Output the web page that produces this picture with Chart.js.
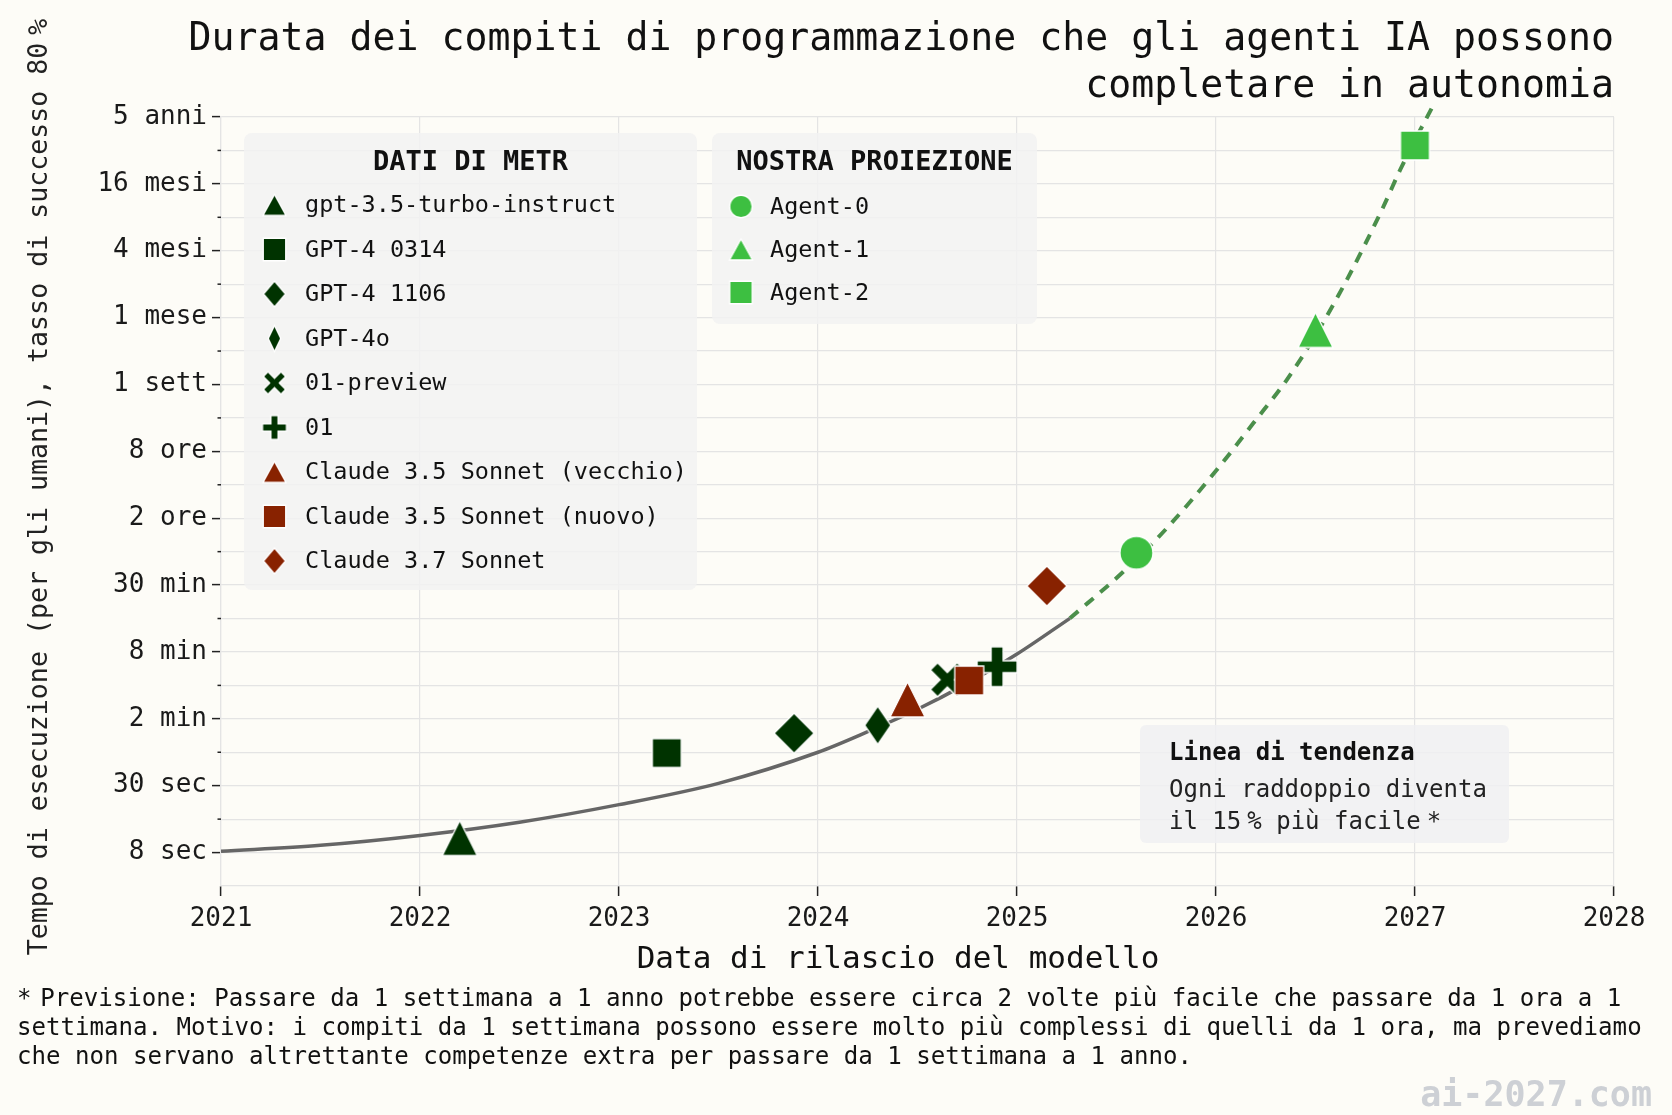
<!DOCTYPE html>
<html lang="it">
<head>
<meta charset="utf-8">
<title>Durata dei compiti di programmazione</title>
<script src="https://cdn.jsdelivr.net/npm/chart.js@4.4.1/dist/chart.umd.min.js"></script>
<style>
  html, body { margin: 0; padding: 0; background: #fdfcf7; }
  #chart { display: block; }
</style>
</head>
<body>
<canvas id="chart" width="1672" height="1115"></canvas>
<script>
const FONT = "'DejaVu Sans Mono', monospace";
const DARK_GREEN = '#003300';
const CLAUDE_RED = '#882200';
const AGENT_GREEN = '#3dbf41';

// METR data: release date (fractional year) and 80% time horizon in seconds
const metrModels = ['gpt-3.5-turbo-instruct', 'GPT-4 0314', 'GPT-4 1106', 'GPT-4o', '01-preview', '01',
  'Claude 3.5 Sonnet (vecchio)', 'Claude 3.5 Sonnet (nuovo)', 'Claude 3.7 Sonnet'];
const metrDates = [2022.20, 2023.24, 2023.88, 2024.30, 2024.65, 2024.90, 2024.45, 2024.76, 2025.15];
const metrSeconds = [10.8, 63, 95, 112, 288, 377, 191, 283, 2007];
const metrShapes = ['triangle', 'square', 'diamond', 'thin', 'x', 'plus', 'triangle', 'square', 'diamond'];
const metrColors = [DARK_GREEN, DARK_GREEN, DARK_GREEN, DARK_GREEN, DARK_GREEN, DARK_GREEN, CLAUDE_RED, CLAUDE_RED, CLAUDE_RED];

// our projection
const agentNames = ['Agent-0', 'Agent-1', 'Agent-2'];
const agentDates = [2025.60, 2026.50, 2027.00];
const agentSeconds = [4000, 405000, 18600000];
const agentShapes = ['circle', 'triangle', 'square'];

// trend line
const trendYears = [2021.0, 2021.5, 2022.0, 2022.5, 2023.0, 2023.5, 2024.0, 2024.25, 2024.5, 2024.75, 2025.0, 2025.266];
const trendSeconds = [8.2, 9.3, 11.4, 15.0, 21.6, 33.6, 64, 98, 156, 267, 490, 1028];
const projYears = [2025.266, 2025.534, 2025.752, 2026.003, 2026.187, 2026.355, 2026.506, 2026.657, 2026.841, 2026.925, 2027.0, 2027.084];
const projSeconds = [1028, 2698, 6640, 22240, 58580, 143700, 378500, 1143000, 5220000, 11180000, 20800000, 40200000];

// y axis: work time in seconds, labelled every factor of 4
const tickSeconds = [8, 32, 128, 512, 2048, 8192, 32768, 131072, 524288, 2097152, 8388608, 33554432];
const tickLabels = ['8 sec', '30 sec', '2 min', '8 min', '30 min', '2 ore', '8 ore', '1 sett', '1 mese', '4 mesi', '16 mesi', '5 anni'];
const gridSeconds = [];
tickSeconds.forEach((v, i) => { gridSeconds.push(v); if (i < tickSeconds.length - 1) gridSeconds.push(v * 2); });

// \u2009 = narrow gap
const footerLines = [
  '*\u2009Previsione: Passare da 1 settimana a 1 anno potrebbe essere circa 2 volte più facile che passare da 1 ora a 1',
  'settimana. Motivo: i compiti da 1 settimana possono essere molto più complessi di quelli da 1 ora, ma prevediamo',
  'che non servano altrettante competenze extra per passare da 1 settimana a 1 anno.'
];

// marker sizes (w, h) in px, on the plot and in the legends
const PLOT_SIZE = { triangle: [35, 35], square: [29, 29], diamond: [40, 40], thin: [26, 38], x: [34, 34], plus: [40, 40], circle: [33, 33] };
const LEGEND_SIZE = { triangle: [23, 21], square: [22.5, 22.5], diamond: [22, 26], thin: [12.5, 26], x: [22.5, 22.5], plus: [24, 24], circle: [22.5, 22.5] };

function makeMarker(shape, color, size) {
  const [w, h] = size;
  const pad = 2;
  const c = document.createElement('canvas');
  c.width = Math.ceil(w + pad * 2);
  c.height = Math.ceil(h + pad * 2);
  const g = c.getContext('2d');
  g.translate(c.width / 2, c.height / 2);
  const hw = w / 2, hh = h / 2;
  g.beginPath();
  if (shape === 'triangle') {
    g.moveTo(0, -hh); g.lineTo(hw, hh); g.lineTo(-hw, hh); g.closePath();
  } else if (shape === 'square') {
    g.rect(-hw, -hh, w, h);
  } else if (shape === 'diamond' || shape === 'thin') {
    g.moveTo(0, -hh); g.lineTo(hw, 0); g.lineTo(0, hh); g.lineTo(-hw, 0); g.closePath();
  } else if (shape === 'circle') {
    g.arc(0, 0, hw, 0, Math.PI * 2);
  } else {
    // filled plus, rotated for the x
    const t = w * 0.15;
    let a = hw;
    if (shape === 'x') { g.rotate(Math.PI / 4); a = hw * Math.SQRT2 - t; }
    g.moveTo(-t, -a); g.lineTo(t, -a); g.lineTo(t, -t); g.lineTo(a, -t); g.lineTo(a, t); g.lineTo(t, t);
    g.lineTo(t, a); g.lineTo(-t, a); g.lineTo(-t, t); g.lineTo(-a, t); g.lineTo(-a, -t); g.lineTo(-t, -t);
    g.closePath();
  }
  g.fillStyle = color;
  g.fill();
  g.strokeStyle = '#ffffff';
  g.lineWidth = 1.3;
  g.stroke();
  return c;
}

// fillText where \u2009 is drawn as a narrow gap (the mono font has no thin space)
function fillTextThin(ctx, text, x, y, gapRatio = 0.42) {
  const gap = ctx.measureText('0').width * gapRatio;
  const parts = text.split('\u2009');
  const total = parts.reduce((s, p) => s + ctx.measureText(p).width, 0) + gap * (parts.length - 1);
  let cx = x;
  if (ctx.textAlign === 'center') cx = x - total / 2;
  else if (ctx.textAlign === 'right') cx = x - total;
  ctx.save();
  ctx.textAlign = 'left';
  parts.forEach(p => {
    ctx.fillText(p, cx, y);
    cx += ctx.measureText(p).width + gap;
  });
  ctx.restore();
}

const datasets = [];
metrModels.forEach((name, i) => {
  datasets.push({
    label: name,
    data: [{ x: metrDates[i], y: metrSeconds[i] }],
    pointStyle: makeMarker(metrShapes[i], metrColors[i], PLOT_SIZE[metrShapes[i]]),
    pointRadius: 12,
    order: 40 - i
  });
});
agentNames.forEach((name, i) => {
  datasets.push({
    label: name,
    data: [{ x: agentDates[i], y: agentSeconds[i] }],
    pointStyle: makeMarker(agentShapes[i], AGENT_GREEN, PLOT_SIZE[agentShapes[i]]),
    pointRadius: 12,
    order: 20 - i
  });
});
datasets.push({
  label: 'Tendenza',
  data: trendYears.map((x, i) => ({ x, y: trendSeconds[i] })),
  showLine: true,
  borderColor: '#666666',
  borderWidth: 3.5,
  pointRadius: 0,
  cubicInterpolationMode: 'monotone',
  order: 100
});
datasets.push({
  label: 'Proiezione',
  data: projYears.map((x, i) => ({ x, y: projSeconds[i] })),
  showLine: true,
  borderColor: '#4b8f4b',
  borderWidth: 4,
  borderDash: [11, 9],
  pointRadius: 0,
  cubicInterpolationMode: 'monotone',
  clip: { left: 0, top: 14, right: 0, bottom: 0 },
  order: 100
});

function drawLegendBox(ctx, box, title, names, shapes, colors) {
  ctx.save();
  ctx.beginPath();
  ctx.roundRect(box.x, box.y, box.w, box.h, 8);
  ctx.fillStyle = 'rgba(242, 242, 242, 0.85)';
  ctx.fill();
  ctx.fillStyle = '#111111';
  ctx.font = 'bold 27px ' + FONT;
  ctx.textAlign = 'center';
  ctx.textBaseline = 'alphabetic';
  ctx.fillText(title, box.x + box.w / 2, box.titleY);
  ctx.font = '23.5px ' + FONT;
  ctx.textAlign = 'left';
  ctx.textBaseline = 'middle';
  names.forEach((name, i) => {
    const cy = box.rowY + i * box.rowGap;
    const img = makeMarker(shapes[i], colors[i], LEGEND_SIZE[shapes[i]]);
    ctx.drawImage(img, box.markerX - img.width / 2, cy - img.height / 2);
    ctx.fillStyle = '#111111';
    ctx.fillText(name, box.textX, cy + 1);
  });
  ctx.restore();
}

const decorations = {
  id: 'decorations',
  beforeDraw(chart) {
    const ctx = chart.ctx;
    ctx.save();
    ctx.fillStyle = '#fdfcf7';
    ctx.fillRect(0, 0, chart.width, chart.height);
    ctx.restore();
  },
  afterDraw(chart) {
    const ctx = chart.ctx;
    const area = chart.chartArea;
    const yScale = chart.scales.y;
    ctx.save();

    // minor ticks on the y axis
    ctx.strokeStyle = '#222222';
    ctx.lineWidth = 1.5;
    gridSeconds.forEach((v, i) => {
      if (i % 2 === 0) return;
      const y = yScale.getPixelForValue(v);
      ctx.beginPath();
      ctx.moveTo(area.left - 3.5, y);
      ctx.lineTo(area.left, y);
      ctx.stroke();
    });

    // title
    ctx.fillStyle = '#111111';
    ctx.font = '38.2px ' + FONT;
    ctx.textAlign = 'right';
    ctx.textBaseline = 'alphabetic';
    ctx.fillText('Durata dei compiti di programmazione che gli agenti IA possono', area.right, 50);
    ctx.fillText('completare in autonomia', area.right, 97);

    // axis titles
    ctx.font = '31px ' + FONT;
    ctx.textAlign = 'center';
    ctx.fillText('Data di rilascio del modello', 898, 968);
    ctx.save();
    ctx.translate(40, 487);
    ctx.rotate(-Math.PI / 2);
    ctx.font = '26.6px ' + FONT;
    ctx.textBaseline = 'middle';
    ctx.fillStyle = '#222222';
    fillTextThin(ctx, 'Tempo di esecuzione (per gli umani), tasso di successo 80\u2009%', 0, 0, 0.5);
    ctx.restore();

    // footnote
    ctx.font = '24.1px ' + FONT;
    ctx.textAlign = 'left';
    ctx.fillStyle = '#111111';
    footerLines.forEach((line, i) => fillTextThin(ctx, line, 17, 1006 + i * 29, 0.6));

    // watermark
    ctx.font = 'bold 35px ' + FONT;
    ctx.textAlign = 'right';
    ctx.fillStyle = '#cdd0d5';
    ctx.fillText('ai-2027.com', 1652, 1106);

    // legends
    drawLegendBox(ctx, { x: 244, y: 133, w: 453, h: 457, titleY: 170, rowY: 205, rowGap: 44.5, markerX: 274.5, textX: 305 },
      'DATI DI METR', metrModels, metrShapes, metrColors);
    drawLegendBox(ctx, { x: 712, y: 133, w: 325, h: 191, titleY: 170, rowY: 206.5, rowGap: 43, markerX: 741, textX: 770 },
      'NOSTRA PROIEZIONE', agentNames, agentShapes, agentNames.map(() => AGENT_GREEN));

    // trend note
    ctx.beginPath();
    ctx.roundRect(1140, 725, 369, 118, 6);
    ctx.fillStyle = 'rgba(240, 240, 242, 0.85)';
    ctx.fill();
    ctx.fillStyle = '#111111';
    ctx.textAlign = 'left';
    ctx.font = 'bold 24px ' + FONT;
    ctx.fillText('Linea di tendenza', 1169, 760);
    ctx.font = '24px ' + FONT;
    ctx.fillStyle = '#222222';
    ctx.fillText('Ogni raddoppio diventa', 1169, 797);
    fillTextThin(ctx, 'il 15\u2009% più facile\u2009*', 1169, 829);

    ctx.restore();
  }
};

new Chart(document.getElementById('chart'), {
  type: 'scatter',
  data: { datasets: datasets },
  options: {
    responsive: false,
    animation: false,
    events: [],
    layout: { padding: { left: 0, right: 58, top: 117, bottom: 0 } },
    plugins: {
      legend: { display: false },
      tooltip: { enabled: false },
      title: { display: false }
    },
    scales: {
      x: {
        type: 'linear',
        min: 2021,
        max: 2028,
        afterFit(scale) { scale.height = 229; },
        ticks: {
          stepSize: 1,
          maxRotation: 0,
          padding: 8,
          color: '#1a1a1a',
          font: { family: FONT, size: 26 },
          callback: v => String(v)
        },
        grid: { color: '#e4e4e4', lineWidth: 1.2, tickLength: 10, tickColor: '#222222', tickWidth: 1.5 },
        border: { color: '#e4e4e4', width: 1.2 }
      },
      y: {
        type: 'logarithmic',
        min: 4,
        max: tickSeconds[tickSeconds.length - 1],
        afterFit(scale) { scale.width = 221; },
        afterBuildTicks(scale) { scale.ticks = gridSeconds.map(v => ({ value: v })); },
        ticks: {
          autoSkip: false,
          padding: 5,
          color: '#1a1a1a',
          font: { family: FONT, size: 26 },
          callback(v) {
            const i = tickSeconds.indexOf(v);
            return i >= 0 ? tickLabels[i] : '';
          }
        },
        grid: {
          color: '#e4e4e4',
          lineWidth: 1.2,
          tickLength: 9,
          tickWidth: 1.5,
          tickColor: c => (c.index % 2 === 0 ? '#222222' : 'rgba(0,0,0,0)')
        },
        border: { color: '#e4e4e4', width: 1.2 }
      }
    }
  },
  plugins: [decorations]
});
</script>
</body>
</html>
